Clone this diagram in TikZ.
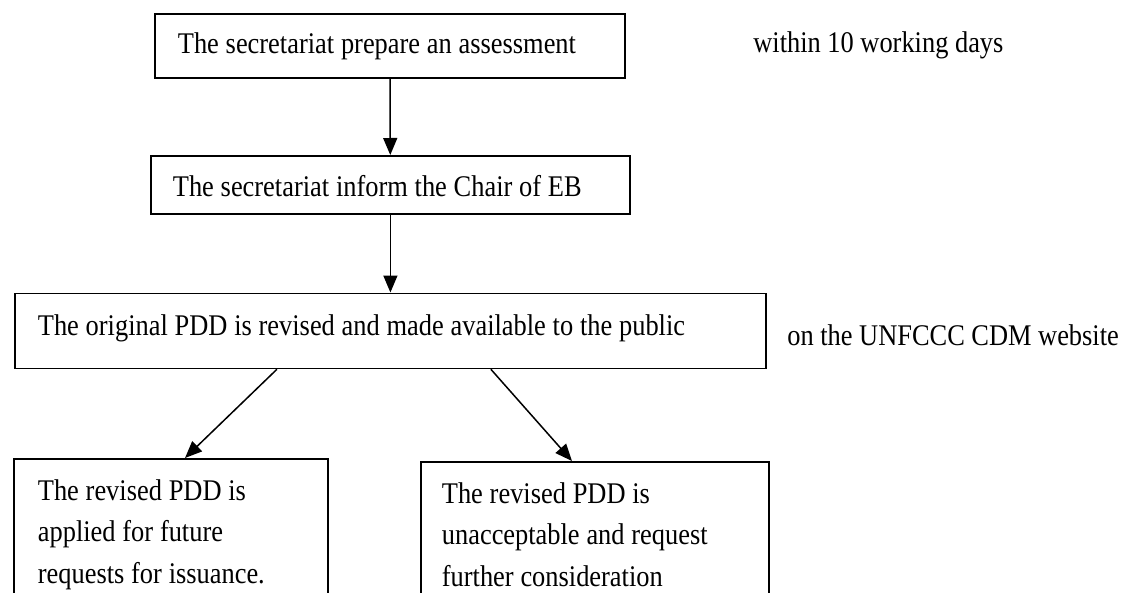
\documentclass[tikz,border=0pt]{standalone}
\usepackage{fontspec}
\setmainfont{Liberation Serif}[FakeStretch=0.88]
\usetikzlibrary{arrows.meta, positioning}

\begin{document}
\begin{tikzpicture}[
  x=0.5pt, y=-0.5pt,
  font=\fontsize{15}{20.75}\selectfont,
  blk/.style={draw, line width=0.9pt, anchor=north west, align=left,
              inner ysep=0pt, execute at begin node={\spaceskip=3.4pt\relax}},
  leaf/.style={blk, inner ysep=10.25pt, text depth=110pt},
  arr/.style={-{Triangle[length=8.5pt, width=7pt]}, line width=0.75pt},
  rol/.style={anchor=base west, inner sep=0pt}
]
\useasboundingbox (0,0) rectangle (1128,593);
\clip (0,0) rectangle (1128,593);

\node[blk, minimum width=235pt, minimum height=32pt, inner xsep=11.5pt,
      text width=212pt, text height=11.3pt, text depth=3.3pt]
      (assess) at (154,13) {The secretariat prepare an assessment};
\node[blk, minimum width=239.5pt, minimum height=29pt, inner xsep=11pt,
      text width=217.5pt, text height=11.5pt, text depth=0pt]
      (inform) at (150,155) {The secretariat inform the Chair of EB};
\node[blk, minimum width=375.5pt, minimum height=37.5pt, inner xsep=11.5pt,
      text width=352.5pt, text height=10.2pt, text depth=6pt]
      (revised) at (14,292.5)
      {The original PDD is revised and made available to the public};

\node[leaf, inner xsep=12pt, text width=133pt] (applied) at (13,458)
      {The revised PDD is\\applied for future\\requests for issuance.};
\node[leaf, inner xsep=10.5pt, text width=153pt] (rejected) at (420,461)
      {The revised PDD is\\unacceptable and request\\further consideration};

\node[rol] (within) at (753,53) {within 10 working days};
\node[rol] (website) at (787,345) {on the UNFCCC CDM website};

\draw[arr] (assess) -- (inform);
\draw[arr] (inform) -- (revised);
\draw[arr] ([xshift=-56.75pt]revised.south) -- ([xshift=86pt]applied.north west);
\draw[arr] ([xshift=50.25pt]revised.south) -- ([xshift=76pt]rejected.north west);
\end{tikzpicture}
\end{document}
